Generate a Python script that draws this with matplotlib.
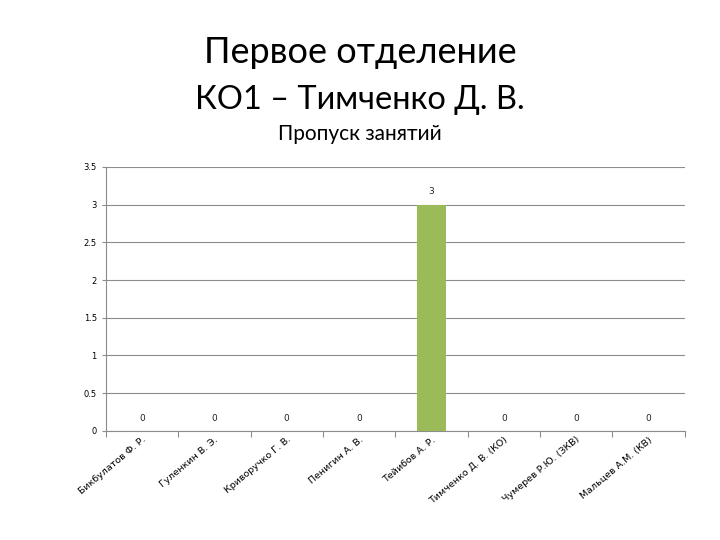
import matplotlib.pyplot as plt
import numpy as np

names = ["Бикбулатов Ф. Р.", "Гуленкин В. Э.", "Криворучко Г. В.", "Пенигин А. В.",
         "Тейибов А. Р.", "Тимченко Д. В. (КО)", "Чумерев Р.Ю. (ЗКВ)", "Мальцев А.М. (КВ)"]
missed = [0, 0, 0, 0, 3, 0, 0, 0]
yticks = [0, 0.5, 1, 1.5, 2, 2.5, 3, 3.5]

fig = plt.figure(figsize=(7.2, 5.4), dpi=100)
fig.text(0.5, 0.903, "Первое отделение", ha="center", va="center", fontsize=26, family="Lato")
fig.text(0.5, 0.815, "КО1 – Тимченко Д. В.", ha="center", va="center", fontsize=23.5, family="Lato")
fig.text(0.5, 0.752, "Пропуск занятий", ha="center", va="center", fontsize=15, family="Lato")

ax = fig.add_axes([0.147, 0.202, 0.804, 0.489])
x = np.arange(len(names))
ax.bar(x, missed, width=0.41, color="#9bbb59", zorder=3)
for xi, v in zip(x, missed):
    ax.text(xi, v + 0.17, f"{v:g}", ha="center", va="center", fontsize=6.5, color="#222222")

ax.set_xlim(-0.5, len(names) - 0.5)
ax.set_ylim(0, 3.5)
ax.set_yticks(yticks)
ax.set_yticklabels([f"{t:g}" for t in yticks], fontsize=6)
ax.yaxis.grid(True, color="#8c8c8c", linewidth=0.8, zorder=0)
ax.set_xticks(np.arange(len(names) + 1) - 0.5)
ax.set_xticklabels([])
ax.set_xticks(x, minor=True)
ax.set_xticklabels(names, minor=True, rotation=40, ha="right", rotation_mode="anchor", fontsize=6.8)
ax.tick_params(axis="x", which="minor", length=0, pad=3)
ax.tick_params(axis="x", which="major", length=4, color="#8c8c8c")
ax.tick_params(axis="y", length=3, color="#8c8c8c")
for s in ["top", "right"]:
    ax.spines[s].set_visible(False)
for s in ["left", "bottom"]:
    ax.spines[s].set_color("#8c8c8c")

fig.savefig("out.png", dpi=100)
